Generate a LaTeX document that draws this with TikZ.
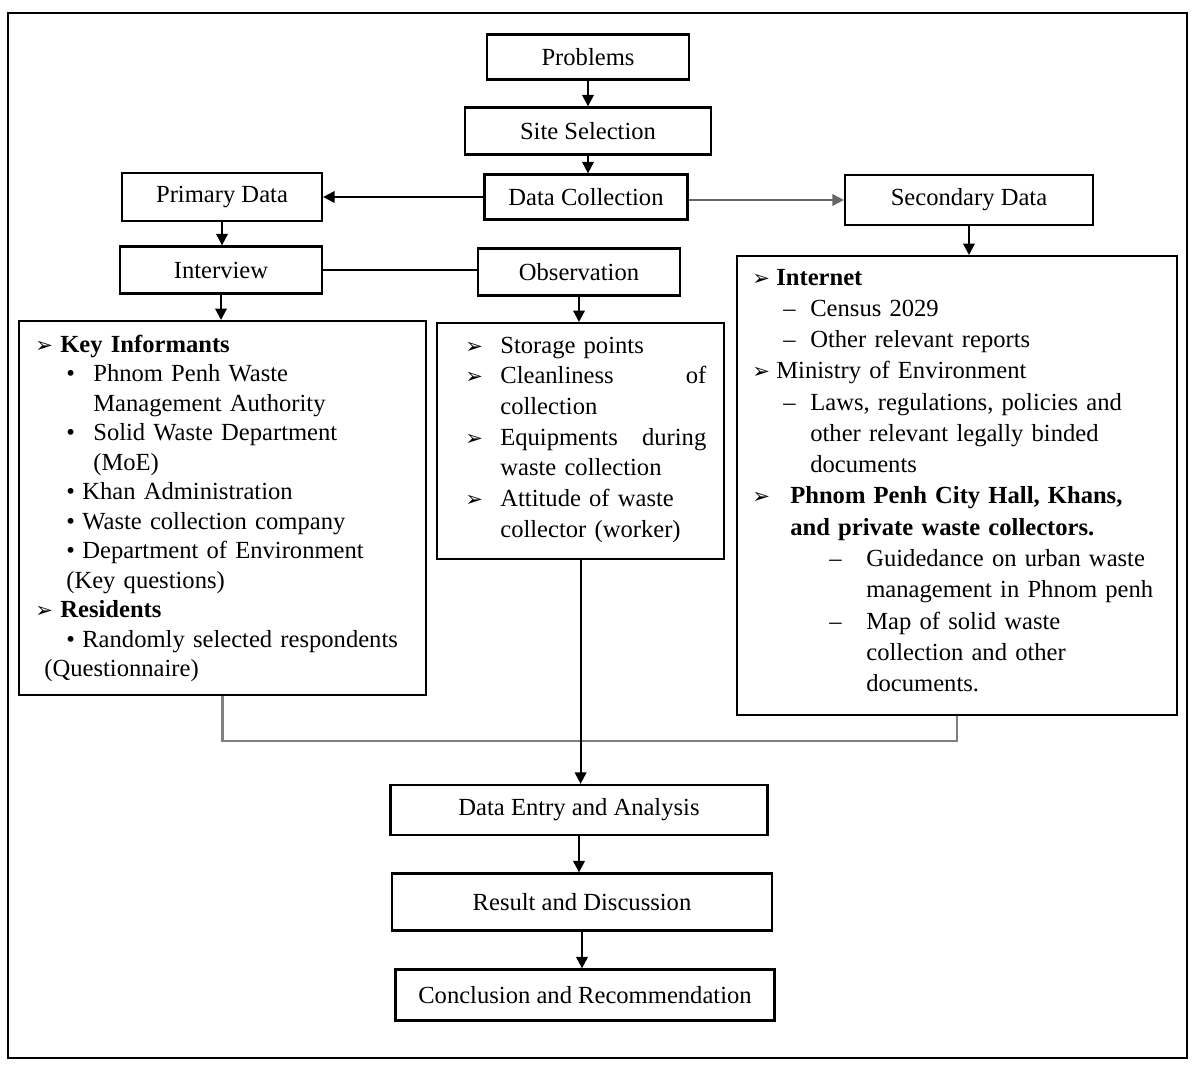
\documentclass[tikz,border=0pt]{standalone}
\usepackage{fontspec}
\setmainfont{Liberation Serif}
\newfontfamily\dejavu{DejaVu Sans}
\usetikzlibrary{arrows.meta,positioning}

\newcommand{\arrmark}{{\dejavu\fontsize{12}{12}\selectfont ➢}}
\newcommand{\rowlead}[3]{\hspace*{#1}\makebox[#2][l]{#3}}

\tikzset{
  box/.style={draw, line width=1.3pt, inner sep=0pt, font=\fontsize{14}{17}\selectfont},
  listbox/.style={draw, line width=1.3pt, inner sep=0pt, anchor=north west},
  listtext/.style={anchor=base west, inner sep=0pt, align=left, text width=#1},
  arr/.style={line width=1.2pt, -{Triangle[length=6.5pt,width=6.5pt]}},
  link/.style={line width=1.2pt},
  greylink/.style={line width=1.4pt, black!50}
}

\begin{document}
\begin{tikzpicture}[x=0.02cm, y=-0.02cm]
\useasboundingbox (0,0) rectangle (1200,1068);
\draw [line width=1.4pt] (8,13) rectangle (1187,1058);

% main column
\node [box, minimum width=4.04cm, minimum height=0.9cm] (prob) at (588,57) {Problems};
\node [box, minimum width=4.92cm, minimum height=0.94cm] (site) at (588,131) {Site Selection};
\node [box, minimum width=4.06cm, minimum height=0.9cm] (coll) at (586,197) {Data Collection};
\node [box, minimum width=4.0cm, minimum height=0.96cm] (prim) at (222,197) {Primary Data};
\node [box, minimum width=4.96cm, minimum height=1.0cm] (sec) at (969,200) {Secondary Data};
\node [box, minimum width=4.04cm, minimum height=0.94cm] (intv) at (221,270) {Interview};
\node [box, minimum width=4.04cm, minimum height=0.94cm] (obs) at (579,272) {Observation};

% list boxes
\node [listbox, minimum width=8.14cm, minimum height=7.48cm] (keybox) at (18,320) {};
\node [listbox, minimum width=5.74cm, minimum height=4.72cm] (obsbox) at (436,322) {};
\node [listbox, minimum width=8.8cm, minimum height=9.18cm] (secbox) at (736,255) {};

\node [listtext=7.8cm, font=\fontsize{14}{16.8}\selectfont] (keytext) at (35,352) {%
\rowlead{0cm}{0.5cm}{\arrmark}\textbf{Key Informants}\\
\rowlead{0.62cm}{0.54cm}{•}Phnom Penh Waste\\
\hspace*{1.16cm}Management Authority\\
\rowlead{0.62cm}{0.54cm}{•}Solid Waste Department\\
\hspace*{1.16cm}(MoE)\\
\rowlead{0.62cm}{0.32cm}{•}Khan Administration\\
\rowlead{0.62cm}{0.32cm}{•}Waste collection company\\
\rowlead{0.62cm}{0.32cm}{•}Department of Environment\\
\hspace*{0.62cm}(Key questions)\\
\rowlead{0cm}{0.5cm}{\arrmark}\textbf{Residents}\\
\rowlead{0.62cm}{0.32cm}{•}Randomly selected respondents\\
\hspace*{0.18cm}(Questionnaire)};

\node [listtext=5.4cm, font=\fontsize{14}{17.5}\selectfont] (obstext) at (465,353) {%
\rowlead{0cm}{0.7cm}{\arrmark}Storage points\\
\rowlead{0cm}{0.7cm}{\arrmark}\makebox[4.12cm][s]{Cleanliness\hfill of}\\
\hspace*{0.7cm}collection\\
\rowlead{0cm}{0.7cm}{\arrmark}\makebox[4.12cm][s]{Equipments\hfill during}\\
\hspace*{0.7cm}waste collection\\
\rowlead{0cm}{0.7cm}{\arrmark}Attitude of waste\\
\hspace*{0.7cm}collector (worker)};

\node [listtext=9cm, font=\fontsize{14}{17.8}\selectfont] (sectext) at (752,285) {%
\rowlead{0cm}{0.48cm}{\arrmark}\textbf{Internet}\\
\rowlead{0.62cm}{0.54cm}{–}Census 2029\\
\rowlead{0.62cm}{0.54cm}{–}Other relevant reports\\
\rowlead{0cm}{0.48cm}{\arrmark}Ministry of Environment\\
\rowlead{0.62cm}{0.54cm}{–}Laws, regulations, policies and\\
\hspace*{1.16cm}other relevant legally binded\\
\hspace*{1.16cm}documents\\
\rowlead{0cm}{0.76cm}{\arrmark}\textbf{Phnom Penh City Hall, Khans,}\\
\hspace*{0.76cm}\textbf{and private waste collectors.}\\
\rowlead{1.54cm}{0.74cm}{–}Guidedance on urban waste\\
\hspace*{2.28cm}management in Phnom penh\\
\rowlead{1.54cm}{0.74cm}{–}Map of solid waste\\
\hspace*{2.28cm}collection and other\\
\hspace*{2.28cm}documents.};

% lower column
\node [box, minimum width=7.54cm, minimum height=1.0cm] (entry) at (579,810) {Data Entry and Analysis};
\node [box, minimum width=7.6cm, minimum height=1.14cm] (result) at (582,902) {Result and Discussion};
\node [box, minimum width=7.58cm, minimum height=1.02cm] (concl) at (585,995) {Conclusion and Recommendation};
\coordinate (merge) at (0,741);

% connectors
\draw [arr] (prob.south) -- (prob.south |- site.north);
\draw [arr] (site.south) -- (site.south |- coll.north);
\draw [arr] (coll.west) -- (prim.east);
\draw [arr, black!60] (coll.east |- sec.west) -- (sec.west);
\draw [arr] (prim.south) -- (prim.south |- intv.north);
\draw [link] (intv.east) -- (intv.east -| obs.west);
\draw [arr] (intv.south) -- (intv.south |- keybox.north);
\draw [arr] (obs.south) -- (obs.south |- obsbox.north);
\draw [arr] (sec.south) -- (sec.south |- secbox.north);
\draw [greylink] (keybox.south) |- (merge -| secbox.south) -- (secbox.south);
\draw [arr] (obsbox.south) -- (obsbox.south |- entry.north);
\draw [arr] (entry.south) -- (entry.south |- result.north);
\draw [arr] (result.south) -- (result.south |- concl.north);
\end{tikzpicture}
\end{document}
